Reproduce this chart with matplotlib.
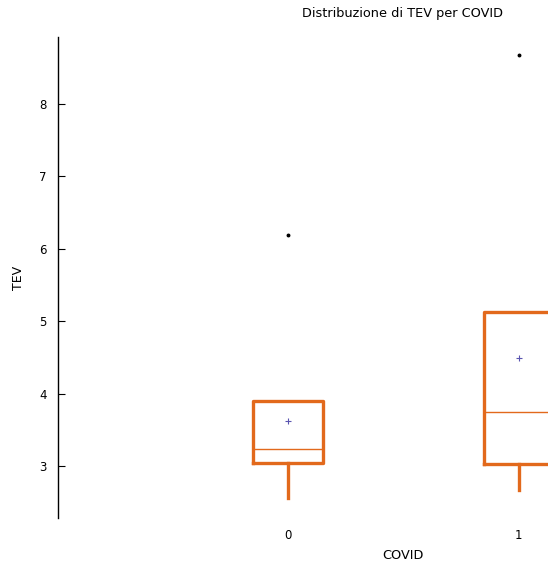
import matplotlib.pyplot as plt

# dati
gruppi = [0, 1]
q1 = [3.04, 3.03]
mediana = [3.235, 3.746]
q3 = [3.90, 5.13]
media = [3.62, 4.49]
baffo_basso = [2.56, 2.67]
baffo_alto = [3.90, 5.13]
outlier = [[6.19], [8.68]]

arancio = '#e2691c'

stats = []
for i in range(len(gruppi)):
    stats.append({
        'label': str(gruppi[i]),
        'q1': q1[i], 'med': mediana[i], 'q3': q3[i], 'mean': media[i],
        'whislo': baffo_basso[i], 'whishi': baffo_alto[i], 'fliers': outlier[i],
    })

fig = plt.figure(figsize=(5.48, 5.64), dpi=100)
# l'asse originale va oltre il bordo destro (immagine tagliata)
ax = fig.add_axes([58 / 548, 46 / 564, 691 / 548, 481 / 564])

ax.bxp(stats, positions=gruppi, widths=0.303, showmeans=True, showcaps=False,
       boxprops=dict(color=arancio, linewidth=2.4),
       whiskerprops=dict(color=arancio, linewidth=2.4),
       medianprops=dict(color=arancio, linewidth=1.0),
       meanprops=dict(marker='+', markeredgecolor='#5a55b0', markersize=5, markeredgewidth=0.8),
       flierprops=dict(marker='o', markerfacecolor='black', markeredgecolor='black', markersize=1.8))

ax.set_xlim(-1, 2)
ax.set_ylim(2.282, 8.925)
ax.set_yticks([3, 4, 5, 6, 7, 8])
ax.set_xticks(gruppi)
ax.set_xticklabels([str(g) for g in gruppi])

for s in ['top', 'right', 'bottom']:
    ax.spines[s].set_visible(False)
ax.spines['left'].set_linewidth(1.0)
ax.tick_params(axis='y', direction='in', length=5, labelsize=8.5, pad=8)
ax.tick_params(axis='x', length=0, labelsize=8.5, pad=8)

ax.set_ylabel('TEV', fontsize=9, labelpad=10)
ax.set_xlabel('COVID', fontsize=9.3, labelpad=8)
ax.xaxis.set_label_coords((403 - 58) / 691, -0.065)

fig.text(403 / 548, 1 - 14 / 564, 'Distribuzione di TEV per COVID', ha='center', va='center', fontsize=9.3)

fig.savefig('out.png', dpi=100)
